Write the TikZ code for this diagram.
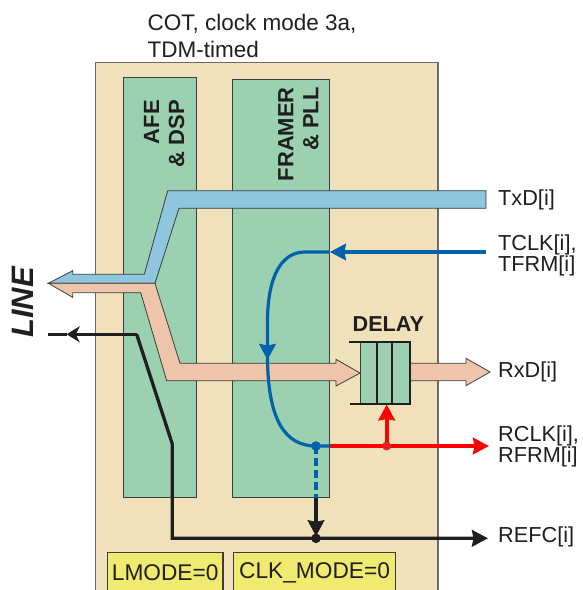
\documentclass[tikz,border=0pt]{standalone}
\usepackage{fontspec}
\setmainfont{Liberation Sans}
\usetikzlibrary{arrows.meta}

\definecolor{board}{RGB}{240,225,187}
\definecolor{boardline}{RGB}{105,105,105}
\definecolor{colgreen}{RGB}{155,208,176}
\definecolor{txblue}{RGB}{142,198,222}
\definecolor{rxpink}{RGB}{238,196,170}
\definecolor{modeyel}{RGB}{240,234,112}
\definecolor{edgegray}{RGB}{60,60,60}
\definecolor{clkblue}{RGB}{0,98,170}
\definecolor{clkred}{RGB}{255,0,0}
\definecolor{dotred}{RGB}{222,36,36}
\definecolor{ink}{RGB}{32,30,30}

\begin{document}
\begin{tikzpicture}[x=1pt,y=-1pt,>={Stealth[length=16pt,width=16.5pt,inset=1.5pt]},
  block/.style={draw=edgegray,line width=0.9pt,fill=colgreen,anchor=north west,inner sep=0pt},
  bus/.style={draw=edgegray,line width=0.8pt,line join=miter},
  modebox/.style={draw=edgegray,line width=1.4pt,fill=modeyel,anchor=north west,inner sep=0pt,text=ink,font=\fontsize{22.7}{26}\selectfont},
  tag/.style={anchor=west,inner sep=0pt,align=left,text=ink,font=\fontsize{21.7}{21}\selectfont},
  blocktitle/.style={rotate=90,anchor=east,inner sep=0pt,align=right,text=ink,font=\fontsize{22}{25}\selectfont\bfseries},
  bluewire/.style={draw=clkblue,line width=3.2pt},
  redwire/.style={draw=clkred,line width=3.6pt},
  blackwire/.style={draw=ink,line width=3.3pt},
  cellline/.style={draw=ink,line width=2pt}]
\useasboundingbox (0,0) rectangle (582,590);
\clip (0,0) rectangle (582,590);

% board and blocks
\node[draw=boardline,line width=1.2pt,fill=board,anchor=north west,inner sep=0pt,minimum width=342.3pt,minimum height=545pt] (board) at (95,61.7) {};
\node[anchor=north west,inner sep=0pt,align=left,text=ink,font=\fontsize{22.5}{27}\selectfont] (title) at (147.4,13.5) {COT, clock mode 3a,\\TDM-timed};
\node[block,minimum width=73.3pt,minimum height=420.3pt] (afe) at (122.7,76.7) {};
\node[block,minimum width=96.7pt,minimum height=418pt] (framer) at (232.3,79) {};
\node[blocktitle] (afetitle) at (164.2,100) {AFE\\\& DSP};
\node[blocktitle] (framertitle) at (298.3,87) {FRAMER\\\& PLL};
\node[rotate=90,inner sep=0pt,text=ink,font=\fontsize{31}{31}\selectfont\bfseries\itshape] (line) at (22.5,302.5) {LINE};

% end points
\coordinate (lineout) at (48.3,283.3);
\coordinate (lineref) at (48.3,334.3);
\coordinate (linemark) at (66.7,334.3);
\coordinate (kneeA) at (136.7,334.3);
\coordinate (kneeB) at (172.3,444);
\coordinate (kneeC) at (172.3,538.3);
\coordinate (txdin) at (486,199.5);
\coordinate (tclkin) at (486,252);
\coordinate (rxdout) at (490,372);
\coordinate (rclkout) at (489,446);
\coordinate (refcout) at (488,538.3);
\coordinate (jpll) at (316,446);
\coordinate (jrclk) at (386.7,446);
\coordinate (jrefc) at (316,538.3);

% delay buffer
\node[fill=colgreen,inner sep=0pt,anchor=north west,minimum width=49.3pt,minimum height=62.3pt] (delay) at (360,341.7) {};
\node[inner sep=0pt,text=ink,font=\fontsize{21.6}{24}\selectfont\bfseries] (delaytitle) at (388.3,324.5) {DELAY};

% data buses
\draw[bus,fill=txblue] (txdin |- 0,190.7) -- (167.7,190.7) -- (144.3,274.3) -- (72.7,274.3) -- (72.7,270.7)
  -- (lineout) -- (155,283.3) -- (179,208.3) -- (txdin |- 0,208.3) -- cycle;
\draw[bus,fill=rxpink] (lineout) -- (155,283.3) -- (180,363.3) -- (336,363.3) -- (336,359.3) -- (delay.west)
  -- (336,386) -- (336,380.7) -- (166.7,380.7) -- (140.7,292.7) -- (72.7,292.7) -- (72.7,297.3) -- cycle;
\draw[bus,fill=rxpink] (delay.east |- 0,363.3) -- (466,363.3) -- (466,358.3) -- (rxdout) -- (466,385.7)
  -- (466,380.7) -- (delay.east |- 0,380.7) -- cycle;

% cells
\draw[edgegray,line width=0.8pt] (delay.north west) -- (delay.south west);
\draw[cellline] (delay.north west) ++(-10.7,0) -- (delay.north east) -- (delay.south east) -- ++(-60,0);
\draw[cellline] (376.7,341.7) -- (376.7,404);
\draw[cellline] (392.3,341.7) -- (392.3,404);

% clocks
\draw[bluewire,->] (tclkin) -- (framer.east |- tclkin);
\draw[bluewire,->] (framer.east |- tclkin) -- (305,252) .. controls (282,252) and (268,275) .. (267.5,320) -- (267.5,360);
\draw[bluewire] (267.5,358) .. controls (268,420) and (285,446) .. (jpll) -- (framer.east |- jpll);
\draw[bluewire,dash pattern=on 8pt off 4pt] (jpll) -- (jpll |- framer.south);
\draw[redwire,->] (framer.east |- jpll) -- (rclkout);
\draw[redwire,->] (jrclk) -- (jrclk |- delay.south);
\draw[blackwire,-{Stealth[length=13pt,width=16pt,inset=4pt]}] (kneeA) -- (linemark);
\draw[blackwire] (linemark) -- (lineref);
\draw[blackwire,->] (kneeA) -- (kneeB) -- (kneeC) -- (refcout);
\draw[blackwire,->,shorten >=2pt] (jpll |- framer.south) -- (jrefc);
\fill[clkblue] (jpll) circle (4.8pt);
\fill[dotred] (jrclk) circle (4.5pt);
\fill[ink] (jrefc) circle (4.8pt);

% signal names
\node[tag] (txd) at (498,199.5) {TxD[i]};
\node[tag] (tclk) at (498,255.8) {TCLK[i],\\TFRM[i]};
\node[tag] (rxd) at (498,372) {RxD[i]};
\node[tag] (rclk) at (498,446.7) {RCLK[i],\\RFRM[i]};
\node[tag] (refc) at (498,536.5) {REFC[i]};

% mode registers
\node[modebox,minimum width=115.6pt,minimum height=40pt] (lmode) at (106.7,551.7) {LMODE=0};
\node[modebox,minimum width=162.3pt,minimum height=40pt] (clkmode) at (232.7,551.7) {CLK\_MODE=0};
\end{tikzpicture}
\end{document}
